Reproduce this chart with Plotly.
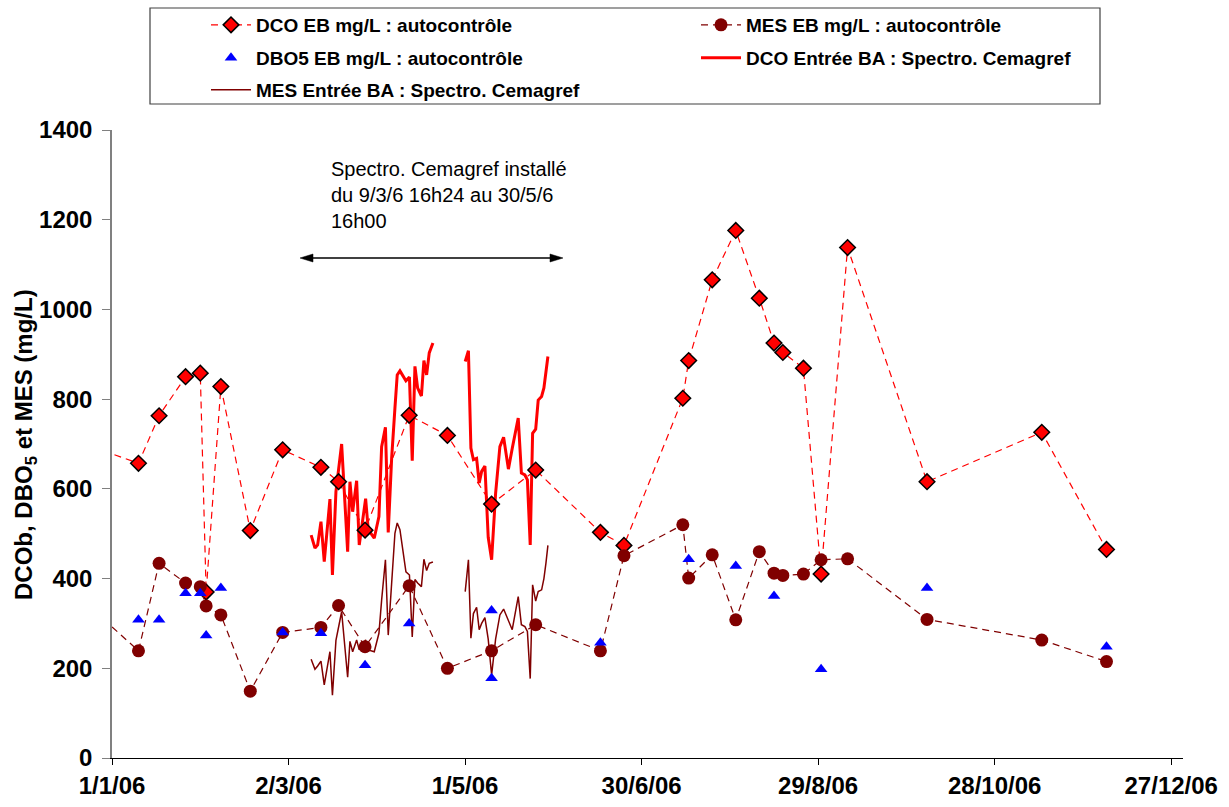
import plotly.graph_objects as go

# ---------------- data ----------------
eb_dates = ["2005-12-29", "2006-01-10", "2006-01-17", "2006-01-26", "2006-01-31", "2006-02-02",
            "2006-02-07", "2006-02-17", "2006-02-28", "2006-03-13", "2006-03-19", "2006-03-28",
            "2006-04-12", "2006-04-25", "2006-05-10", "2006-05-25", "2006-06-16", "2006-06-24",
            "2006-07-14", "2006-07-16", "2006-07-24", "2006-08-01", "2006-08-09", "2006-08-14",
            "2006-08-17", "2006-08-24", "2006-08-30", "2006-09-08", "2006-10-05", "2006-11-13",
            "2006-12-05"]
dco_eb = [685, 657, 763, 850, 858, 370, 828, 507, 687, 648, 616, 508, 764, 719, 566, 642, 503, 474,
          802, 886, 1066, 1176, 1025, 925, 904, 869, 410, 1138, 616, 726, 465]
mes_eb = [310, 239, 434, 390, 382, 339, 319, 149, 280, 291, 340, 248, 384, 200, 239, 297, 239, 451,
          520, 401, 453, 308, 460, 412, 407, 410, 442, 444, 309, 263, 215]

dbo_dates = ["2006-01-10", "2006-01-17", "2006-01-26", "2006-01-31", "2006-02-02", "2006-02-07",
             "2006-02-28", "2006-03-13", "2006-03-28", "2006-04-12", "2006-05-10", "2006-05-10",
             "2006-06-16", "2006-07-16", "2006-08-01", "2006-08-14", "2006-08-30", "2006-10-05",
             "2006-12-05"]
dbo5_eb = [308, 308, 367, 367, 273, 379, 280, 278, 207, 300, 329, 178, 257, 443, 428, 361, 198, 379, 248]

# spectro Cemagref, period 1 (9/3 -> 20/4)
spec_t1 = ["2006-03-09 16:24", "2006-03-10 23:30", "2006-03-11 21:20", "2006-03-13 00:30",
           "2006-03-14 03:20", "2006-03-16 01:40", "2006-03-16 22:00", "2006-03-18 02:40",
           "2006-03-20 01:10", "2006-03-22 02:10", "2006-03-22 20:50", "2006-03-23 19:00",
           "2006-03-25 03:30", "2006-03-26 00:40", "2006-03-28 04:50", "2006-03-29 02:10",
           "2006-03-31 03:10", "2006-04-01 17:20", "2006-04-02 15:20", "2006-04-03 22:20",
           "2006-04-04 21:10", "2006-04-06 01:00", "2006-04-07 03:50", "2006-04-07 22:30",
           "2006-04-08 20:40", "2006-04-10 21:40", "2006-04-12 02:10", "2006-04-13 01:00",
           "2006-04-13 23:00", "2006-04-14 20:50", "2006-04-16 03:50", "2006-04-17 00:10",
           "2006-04-17 22:20", "2006-04-18 19:40", "2006-04-20 01:40"]
dco_spec1 = [497, 468, 475, 527, 438, 577, 408, 594, 700, 460, 616, 549, 618, 475, 578, 509, 490, 538,
             694, 737, 503, 668, 780, 854, 863, 841, 849, 663, 873, 825, 807, 886, 854, 903, 925]
mes_spec1 = [220, 198, 205, 216, 163, 237, 140, 262, 326, 180, 260, 237, 263, 241, 263, 241, 237, 278,
             352, 442, 274, 390, 501, 524, 509, 415, 408, 270, 398, 390, 382, 443, 418, 434, 437]

# spectro Cemagref, period 2 (1/5 -> 29/5)
spec_t2 = ["2006-05-01 01:00", "2006-05-02 03:20", "2006-05-02 23:30", "2006-05-03 20:00",
           "2006-05-04 22:00", "2006-05-05 19:10", "2006-05-06 15:00", "2006-05-07 17:45",
           "2006-05-08 20:40", "2006-05-10 00:30", "2006-05-11 09:00", "2006-05-12 20:00",
           "2006-05-14 02:20", "2006-05-15 17:30", "2006-05-17 00:30", "2006-05-19 01:30",
           "2006-05-20 03:20", "2006-05-21 08:00", "2006-05-22 04:20", "2006-05-23 03:20",
           "2006-05-23 22:50", "2006-05-25 00:00", "2006-05-25 20:30", "2006-05-27 00:15",
           "2006-05-27 19:00", "2006-05-28 11:20", "2006-05-29 03:40"]
dco_spec2 = [884, 908, 691, 665, 668, 613, 639, 651, 492, 442, 590, 694, 715, 644, 690, 758, 635, 631,
             620, 475, 724, 733, 798, 806, 825, 860, 895]
mes_spec2 = [371, 442, 267, 322, 336, 286, 300, 313, 265, 185, 265, 319, 332, 304, 286, 360, 297, 293,
             282, 177, 386, 350, 371, 375, 400, 434, 474]

x_range = ["2006-01-01", "2006-12-31"]
x_tick0 = "2006-01-01"
x_dtick_days = 60
y_range = [0, 1400]
y_dtick = 200

names = ["DCO EB mg/L : autocontrôle", "MES EB mg/L : autocontrôle", "DBO5 EB mg/L : autocontrôle",
         "DCO Entrée BA : Spectro. Cemagref", "MES Entrée BA : Spectro. Cemagref"]
y_title = "DCOb, DBO<sub>5</sub> et MES (mg/L)"
note = "Spectro. Cemagref installé<br>du 9/3/6 16h24 au 30/5/6<br>16h00"

# ---------------- layout constants ----------------
W, H = 1229, 807
ML, MR, MT, MB = 112, 46, 130, 49
PW, PH = W - ML - MR, H - MT - MB
FONT = "Liberation Sans, Arial, sans-serif"
RED, DARK = "#FF0000", "#800000"


def px_x(px):
    return (px - ML) / PW


def px_y(py):
    return (H - MB - py) / PH


spec_t = spec_t1 + [None] + spec_t2
dco_spec = dco_spec1 + [None] + dco_spec2
mes_spec = mes_spec1 + [None] + mes_spec2

fig = go.Figure()

fig.add_trace(go.Scatter(x=spec_t, y=dco_spec, mode="lines", name=names[3],
                         line=dict(color=RED, width=3), legend="legend4", connectgaps=False))
fig.add_trace(go.Scatter(x=spec_t, y=mes_spec, mode="lines", name=names[4],
                         line=dict(color=DARK, width=1.5), legend="legend5", connectgaps=False))
fig.add_trace(go.Scatter(x=eb_dates, y=dco_eb, mode="lines+markers", name=names[0],
                         line=dict(color=RED, width=1.2, dash="7px,5px"),
                         marker=dict(symbol="diamond", size=12, color=RED,
                                     line=dict(color="black", width=1.5)),
                         legend="legend"))
fig.add_trace(go.Scatter(x=eb_dates, y=mes_eb, mode="lines+markers", name=names[1],
                         line=dict(color=DARK, width=1.2, dash="7px,5px"),
                         marker=dict(symbol="circle", size=13, color=DARK),
                         legend="legend2"))
fig.add_trace(go.Scatter(x=dbo_dates, y=dbo5_eb, mode="markers", name=names[2],
                         marker=dict(symbol="triangle-up", size=11, color="#0000FF"),
                         legend="legend3"))

leg_font = dict(family=FONT, size=19, color="black", weight="bold")


def leg(xpx, ypx):
    return dict(x=xpx / W, y=1 - ypx / H, xref="container", yref="container",
                xanchor="left", yanchor="middle", bgcolor="rgba(0,0,0,0)",
                borderwidth=0, font=leg_font, itemwidth=40, itemclick=False)


fig.update_layout(
    width=W, height=H,
    margin=dict(l=ML, r=MR, t=MT, b=MB, autoexpand=False),
    paper_bgcolor="white", plot_bgcolor="white",
    font=dict(family=FONT, color="black"),
    legend=leg(206, 25),
    legend2=leg(696, 25),
    legend3=leg(206, 58),
    legend4=leg(696, 58),
    legend5=leg(206, 90),
    xaxis=dict(range=x_range, tick0=x_tick0, dtick=x_dtick_days * 86400000,
               tickformat="%-d/%-m/%y", showgrid=False, zeroline=False,
               showline=True, linecolor="#000000", linewidth=1,
               ticks="outside", ticklen=6, tickcolor="#000000",
               tickfont=dict(family=FONT, size=24, color="black", weight="bold"),
               automargin=False),
    yaxis=dict(range=y_range, dtick=y_dtick, showgrid=False, zeroline=False,
               showline=True, linecolor="#808080", linewidth=1.5,
               ticks="outside", ticklen=8, tickcolor="#808080",
               ticklabelstandoff=5,
               tickfont=dict(family=FONT, size=24, color="black", weight="bold"),
               automargin=False),
    showlegend=True,
)

# y axis title
fig.add_annotation(xref="paper", yref="paper", x=px_x(25), y=px_y(445),
                   xanchor="center", yanchor="middle", textangle=-90, showarrow=False,
                   text=y_title, font=dict(family=FONT, size=24, color="black", weight="bold"))

# legend frame
fig.add_shape(type="rect", xref="paper", yref="paper",
              x0=px_x(150), x1=px_x(1100), y0=px_y(104), y1=px_y(8),
              line=dict(color="#404040", width=1.2), fillcolor="rgba(0,0,0,0)")

# annotation text
fig.add_annotation(xref="paper", yref="paper", x=px_x(329), y=px_y(156),
                   xanchor="left", yanchor="top", align="left", showarrow=False,
                   text=note, font=dict(family=FONT, size=20, color="black"))

# double arrow (line + two heads)
ay_px, ax0, ax1 = 258, 300, 563
fig.add_shape(type="line", xref="paper", yref="paper",
              x0=px_x(ax0 + 4), x1=px_x(ax1 - 4), y0=px_y(ay_px), y1=px_y(ay_px),
              line=dict(color="black", width=1.5))
fig.add_shape(type="path", xref="paper", yref="paper",
              path=f"M {px_x(ax0)} {px_y(ay_px)} L {px_x(ax0 + 13)} {px_y(ay_px - 4)} "
                   f"L {px_x(ax0 + 13)} {px_y(ay_px + 4)} Z",
              fillcolor="black", line=dict(color="black", width=0.5))
fig.add_shape(type="path", xref="paper", yref="paper",
              path=f"M {px_x(ax1)} {px_y(ay_px)} L {px_x(ax1 - 13)} {px_y(ay_px - 4)} "
                   f"L {px_x(ax1 - 13)} {px_y(ay_px + 4)} Z",
              fillcolor="black", line=dict(color="black", width=0.5))

fig.write_html("out.html")
